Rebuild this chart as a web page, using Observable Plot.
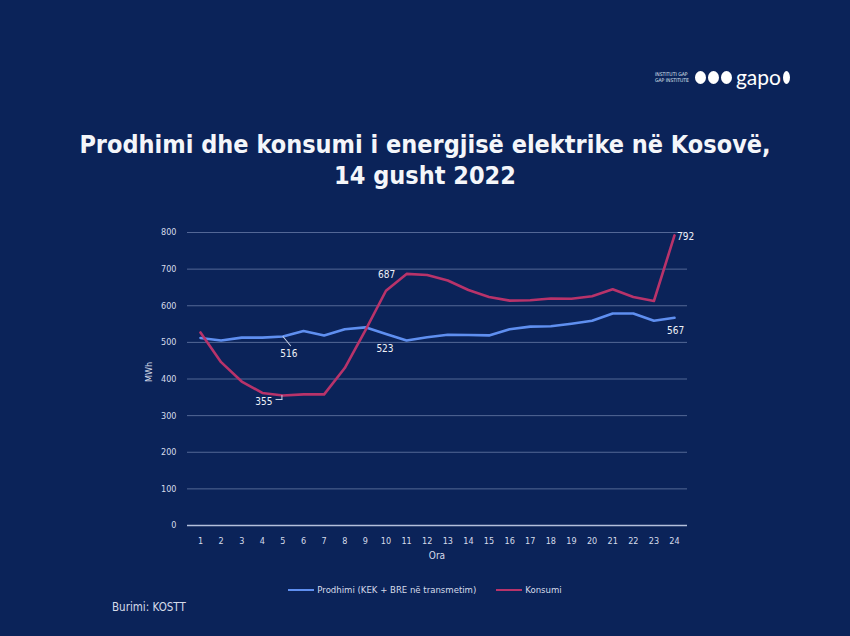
<!DOCTYPE html>
<html>
<head>
<meta charset="utf-8">
<script src="https://cdn.jsdelivr.net/npm/d3@7"></script>
<script src="https://cdn.jsdelivr.net/npm/@observablehq/plot@0.6"></script>
<style>
  html, body { margin: 0; padding: 0; background: #0b2359; }
  #page { position: relative; width: 850px; height: 636px; background: #0b2359; overflow: hidden; font-family: "DejaVu Sans Condensed", "DejaVu Sans", sans-serif; color: #fff; }
  #title { position: absolute; top: 129px; left: 0; width: 850px; text-align: center; font-size: 25px; font-weight: bold; line-height: 31px; color: #f4f6fa; }
  #chart { position: absolute; top: 215px; left: 0; }
  #xlabel { position: absolute; top: 550px; left: 0; width: 874px; text-align: center; font-size: 10px; color: #d6dcea; }
  #ylabel { position: absolute; top: 367px; left: 139px; font-size: 9px; color: #d6dcea; transform: rotate(-90deg); transform-origin: center; }
  #legend { position: absolute; top: 584px; left: 0; width: 850px; display: flex; justify-content: center; gap: 20px; font-size: 9.5px; color: #d6dcea; }
  #legend span { display: inline-flex; align-items: center; }
  #legend i { display: inline-block; width: 26px; height: 2px; margin-right: 3px; }
  #source { position: absolute; top: 600px; left: 112px; font-size: 11.5px; color: #d6dcea; }
  #logo { position: absolute; top: 67px; left: 655px; display: flex; align-items: center; color: #fff; }
  #logo .small { font-size: 5px; line-height: 6px; margin-right: 6px; color: #dfe4ef; }
  #logo .dot { display: inline-block; width: 11px; height: 13px; background: #fff; border-radius: 50%; margin-right: 2px; }
  #logo .word { font-size: 21px; line-height: 20px; font-family: "Lato", sans-serif; margin: 0 2px; }
</style>
</head>
<body>
<div id="page">
  <div id="logo"><div class="small">INSTITUTI GAP<br>GAP INSTITUTE</div><span class="dot"></span><span class="dot"></span><span class="dot"></span><span class="word">gapo</span><span class="dot" style="width:7px"></span></div>
  <div id="title">Prodhimi dhe konsumi i energjisë elektrike në Kosovë,<br>14 gusht 2022</div>
  <div id="chart"></div>
  <div id="xlabel">Ora</div>
  <div id="ylabel">MWh</div>
  <div id="legend"></div>
  <div id="source">Burimi: KOSTT</div>
</div>
<script>
const hours = d3.range(1, 25);
const prodhimi = [512, 505, 513, 513, 516, 531, 519, 536, 541, 523, 505, 514, 521, 520, 519, 536, 543, 544, 551, 559, 579, 579, 559, 567];
const konsumi  = [527, 446, 393, 362, 355, 358, 358, 430, 533, 641, 687, 684, 669, 643, 624, 614, 615, 620, 619, 626, 645, 624, 613, 792];
const seriesNames = ["Prodhimi (KEK + BRE në transmetim)", "Konsumi"];
const seriesColors = ["#5f8ff0", "#b8336a"];
const yTicks = [0, 100, 200, 300, 400, 500, 600, 700, 800];

// annotated points: series index, hour, label offset
const annotations = [
  {s: 0, h: 5, dx: 6, dy: 17},
  {s: 0, h: 10, dx: -1, dy: 15},
  {s: 1, h: 11, dx: -20, dy: 1},
  {s: 1, h: 24, dx: 11, dy: 1},
  {s: 0, h: 24, dx: 1, dy: 13},
  {s: 1, h: 5, dx: -19, dy: 6}
];

const data = [];
hours.forEach((h, i) => {
  data.push({hour: h, value: prodhimi[i], series: seriesNames[0]});
  data.push({hour: h, value: konsumi[i], series: seriesNames[1]});
});
const ann = annotations.map(a => {
  const v = (a.s === 0 ? prodhimi : konsumi)[a.h - 1];
  return {...a, hour: a.h, value: v, label: String(v)};
});

const leaderShape = { draw(context, l) { context.moveTo(0, 0); context.lineTo(0, -l); } };

const chart = Plot.plot({
  width: 850,
  height: 355,
  marginLeft: 187,
  marginRight: 163,
  marginTop: 17,
  marginBottom: 45,
  style: { background: "transparent", color: "#d6dcea", fontFamily: "'DejaVu Sans Condensed', 'DejaVu Sans', sans-serif", fontSize: "9px" },
  x: { domain: [0.37, 24.63], ticks: hours, tickFormat: d => String(d), tickSize: 0, tickPadding: 12, label: null },
  y: { domain: [0, 800], ticks: yTicks, tickSize: 0, tickPadding: 11, label: null },
  color: { domain: seriesNames, range: seriesColors },
  marks: [
    Plot.ruleY(yTicks.filter(d => d > 0), { stroke: "#8fa0c8", strokeOpacity: 0.55, strokeWidth: 1 }),
    Plot.ruleY([0], { stroke: "#b4c0dc", strokeWidth: 1.5 }),
    Plot.line(data, { x: "hour", y: "value", stroke: "series", strokeWidth: 2.6, strokeLinejoin: "round" }),
    Plot.vector(ann.filter(a => a.h === 5 && a.s === 0), { x: "hour", y: "value", length: 12, rotate: 140, anchor: "start", shape: leaderShape, stroke: "#c9d1e4", strokeWidth: 1 }),
    Plot.vector(ann.filter(a => a.h === 5 && a.s === 1), { x: "hour", y: "value", length: 6, rotate: 270, anchor: "start", shape: leaderShape, stroke: "#c9d1e4", strokeWidth: 1, dx: -1, dy: 4 }),
    Plot.vector(ann.filter(a => a.h === 5 && a.s === 1), { x: "hour", y: "value", length: 4, rotate: 0, anchor: "start", shape: leaderShape, stroke: "#c9d1e4", strokeWidth: 1, dx: -1, dy: 4 }),
    ...ann.map(a => Plot.text([a], { x: "hour", y: "value", text: "label", dx: a.dx, dy: a.dy, fill: "#eef1f7", fontSize: 10 }))
  ]
});
document.getElementById("chart").appendChild(chart);

const legend = document.getElementById("legend");
seriesNames.forEach((n, i) => {
  const s = document.createElement("span");
  s.innerHTML = `<i style="background:${seriesColors[i]}"></i>${n}`;
  legend.appendChild(s);
});
</script>
</body>
</html>
